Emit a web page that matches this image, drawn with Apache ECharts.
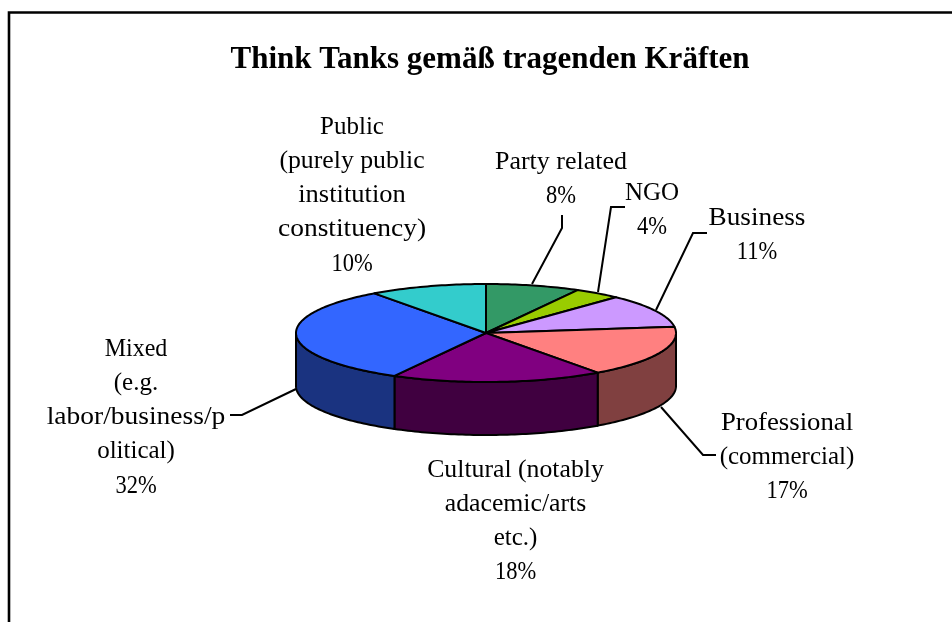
<!DOCTYPE html>
<html><head><meta charset="utf-8">
<style>html,body{margin:0;padding:0;background:#fff}#c{width:952px;height:622px}</style>
<script src="https://cdn.jsdelivr.net/npm/echarts@6/dist/echarts.min.js"></script>
</head><body><div id="c"></div>
<script>
const chartTitle = 'Think Tanks gemäß tragenden Kräften';
const categories = ['Party related','NGO','Business','Professional\n(commercial)','Cultural (notably\nadacemic/arts\netc.)','Mixed\n(e.g.\nlabor/business/p\nolitical)','Public\n(purely public\ninstitution\nconstituency)'];
const shares = [8,4,11,17,18,32,10];
const topColors = ['#339966','#99CC00','#CC99FF','#FF8080','#800080','#3366FF','#33CCCC'];
const wallColors = ['#1A4D33','#4D6600','#664D80','#804040','#400040','#1A3380','#1A6666'];

// layout only
const FONT = '"Liberation Serif","Times New Roman",serif';
const cx = 486, cy = 333, rx = 190, ry = 49, depth = 53;
const labelCenters = [[561,162],[652,193],[757,218],[787,423],[515.5,470],[136,349],[352,127]];
const lineScales = [[1.04],[1],[1.09],[1.07,1],[1.03,1.03,1],[0.96,1,1.1,1],[1,1.03,1.06,1.1]];
const pctScale = 0.9;
const lineHeight = 34.3;
const leaders = [
  [[532,284],[562,228],[562,215]],
  [[598,292],[611,207],[625,207]],
  [[656,310],[693,233],[707,233]],
  [[661,407],[703,455],[716,455]],
  null,
  [[296,389],[242,415],[230,415]],
  null
];

const total = shares.reduce((a,b)=>a+b,0);
function bounds(i){
  let s=0; for(let k=0;k<i;k++) s+=shares[k];
  return [s/total*2*Math.PI,(s+shares[i])/total*2*Math.PI];
}
function pt(a,dy){ return [cx+rx*Math.sin(a), cy-ry*Math.cos(a)+(dy||0)]; }
function arc(a0,a1,dy){
  const n=Math.max(2,Math.ceil((a1-a0)/0.02)), out=[];
  for(let k=0;k<=n;k++) out.push(pt(a0+(a1-a0)*k/n,dy));
  return out;
}
const lineStyle={stroke:'#000',lineWidth:2,lineJoin:'round'};

function renderWall(params,api){
  const [a0,a1]=bounds(params.dataIndex);
  const lo=Math.max(a0,Math.PI/2), hi=Math.min(a1,Math.PI*1.5);
  if(hi<=lo) return {type:'group',children:[]};
  const pts=arc(lo,hi,0).concat(arc(lo,hi,depth).reverse());
  return {type:'polygon',shape:{points:pts},style:Object.assign({fill:wallColors[params.dataIndex]},lineStyle)};
}
function renderTop(params,api){
  const [a0,a1]=bounds(params.dataIndex);
  const pts=[[cx,cy]].concat(arc(a0,a1,0));
  return {type:'polygon',shape:{points:pts},style:Object.assign({fill:topColors[params.dataIndex]},lineStyle)};
}
function renderLabel(params,api){
  const i=params.dataIndex, c=labelCenters[i], children=[];
  const lines=categories[i].split('\n').concat([api.value(0)+'%']);
  lines.forEach((t,k)=>{
    const sx=k===lines.length-1?pctScale:lineScales[i][k];
    children.push({type:'text',x:c[0],y:c[1]+k*lineHeight,scaleX:sx,style:{
      text:t,x:0,y:0,align:'center',verticalAlign:'middle',
      font:'25px '+FONT,fill:'#000'}});
  });
  if(leaders[i]) children.push({type:'polyline',shape:{points:leaders[i]},style:{stroke:'#000',lineWidth:2,fill:null}});
  return {type:'group',children};
}
const data=shares.map((v,i)=>({name:categories[i],value:[v]}));
const chart=echarts.init(document.getElementById('c'),null,{renderer:'canvas'});
chart.setOption({
  animation:false,
  backgroundColor:'#fff',
  title:{text:chartTitle,left:485,top:39,textAlign:'center',
    textStyle:{fontFamily:FONT,fontWeight:'bold',fontSize:31,color:'#000'}},
  graphic:[{type:'polyline',shape:{points:[[9,622],[9,12.5],[952,12.5]]},style:{stroke:'#000',lineWidth:2.6,fill:null}}],
  series:[
    {type:'custom',coordinateSystem:'none',renderItem:renderWall,data,z:1,silent:true},
    {type:'custom',coordinateSystem:'none',renderItem:renderTop,data,z:2,silent:true},
    {type:'custom',coordinateSystem:'none',renderItem:renderLabel,data,z:3,silent:true}
  ]
});
</script></body></html>
